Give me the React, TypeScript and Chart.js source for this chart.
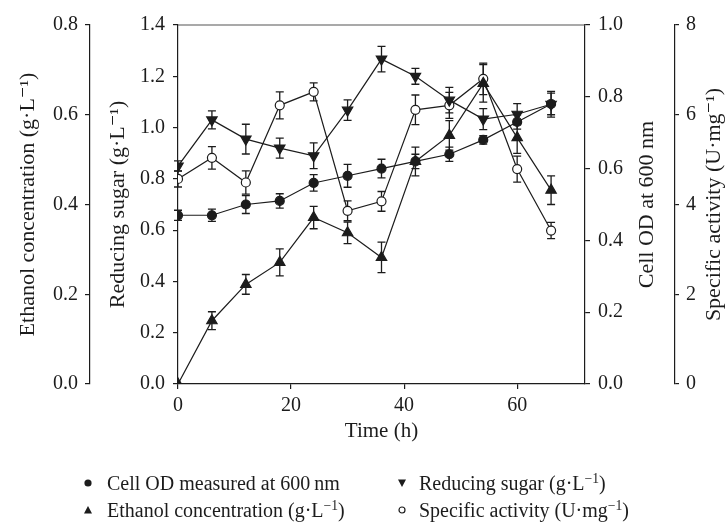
import React, { useEffect, useRef } from "react";
import { Chart, registerables } from "chart.js";

Chart.register(...registerables);

// ---- data ----
const times = [0, 6, 12, 18, 24, 30, 36, 42, 48, 54, 60, 66];
const cellOD = [0.47, 0.47, 0.5, 0.51, 0.56, 0.58, 0.6, 0.62, 0.64, 0.68, 0.73, 0.78];
const cellODErr = [0.014, 0.017, 0.025, 0.02, 0.023, 0.032, 0.026, 0.02, 0.02, 0.012, 0.02, 0.03];
const sugar = [0.85, 1.03, 0.955, 0.92, 0.89, 1.068, 1.267, 1.2, 1.107, 1.033, 1.052, 1.091];
const sugarErr = [0.02, 0.035, 0.058, 0.039, 0.05, 0.04, 0.05, 0.031, 0.05, 0.041, 0.041, 0.05];
const ethanol = [0, 0.141, 0.222, 0.271, 0.371, 0.337, 0.282, 0.496, 0.554, 0.67, 0.549, 0.432];
const ethanolErr = [0, 0.02, 0.022, 0.03, 0.025, 0.024, 0.034, 0.032, 0.033, 0.042, 0.035, 0.032];
const activity = [4.57, 5.04, 4.49, 6.21, 6.51, 3.86, 4.07, 6.11, 6.21, 6.8, 4.79, 3.42];
const activityErr = [0.18, 0.25, 0.26, 0.3, 0.2, 0.22, 0.22, 0.33, 0.29, 0.35, 0.29, 0.18];

const xTitle = "Time (h)";
const ethanolTitle = "Ethanol concentration (g\u00B7L\u207B\u00B9)";
const sugarTitle = "Reducing sugar (g\u00B7L\u207B\u00B9)";
const odTitle = "Cell OD at 600 nm";
const activityTitle = "Specific activity (U\u00B7mg\u207B\u00B9)";

const INK = "#1c1c1c";
const FONT = '"Liberation Serif", "Times New Roman", "DejaVu Serif", serif';

const toPoints = (ys: number[]) => times.map((t, i) => ({ x: t, y: ys[i] }));

const errorBarPlugin = {
  id: "errorBars",
  beforeDatasetsDraw(chart: any) {
    const ctx = chart.ctx;
    ctx.save();
    ctx.strokeStyle = INK;
    ctx.lineWidth = 1.3;
    chart.data.datasets.forEach((ds: any, i: number) => {
      const meta = chart.getDatasetMeta(i);
      const ys = chart.scales[meta.yAxisID];
      const errs: number[] = ds.errors || [];
      meta.data.forEach((pt: any, j: number) => {
        const e = errs[j];
        if (!e) return;
        const v = ds.data[j].y;
        const x = pt.x;
        const y1 = ys.getPixelForValue(v + e);
        const y2 = ys.getPixelForValue(Math.max(v - e, 0));
        const cap = 4;
        ctx.beginPath();
        ctx.moveTo(x, y1);
        ctx.lineTo(x, y2);
        ctx.moveTo(x - cap, y1);
        ctx.lineTo(x + cap, y1);
        ctx.moveTo(x - cap, y2);
        ctx.lineTo(x + cap, y2);
        ctx.stroke();
      });
    });
    ctx.restore();
  },
};

const framePlugin = {
  id: "frameAndTitles",
  afterDraw(chart: any) {
    const ctx = chart.ctx;
    const a = chart.chartArea;
    ctx.save();
    ctx.strokeStyle = "#555";
    ctx.lineWidth = 1.2;
    ctx.beginPath();
    ctx.moveTo(a.left, a.top);
    ctx.lineTo(a.right, a.top);
    ctx.stroke();
    ctx.fillStyle = INK;
    ctx.font = `22px ${FONT}`;
    ctx.textAlign = "center";
    ctx.textBaseline = "middle";
    const midY = (a.top + a.bottom) / 2;
    const od = chart.scales.yOD;
    const act = chart.scales.yAct;
    const drawV = (text: string, x: number) => {
      ctx.save();
      ctx.translate(x, midY);
      ctx.rotate(-Math.PI / 2);
      ctx.fillText(text, 0, 0);
      ctx.restore();
    };
    drawV(odTitle, od.right - 28);
    drawV(activityTitle, act.right - 12);
    ctx.restore();
  },
};

const tickFont = { family: FONT, size: 20 };
const titleFont = { family: FONT, size: 22 };

function yAxis(
  position: "left" | "right",
  min: number,
  max: number,
  step: number,
  width: number,
  weight: number,
  digits: number,
  title: string | null,
  titlePad: number,
  tickLen: number,
  tickPad: number
) {
  return {
    type: "linear",
    position,
    min,
    max,
    weight,
    ticks: {
      stepSize: step,
      font: tickFont,
      color: INK,
      padding: tickPad,
      callback: (v: any) => Number(v).toFixed(digits),
    },
    grid: { drawOnChartArea: false, drawTicks: true, tickLength: tickLen, color: INK, lineWidth: 1.2 },
    border: { display: true, color: INK, width: 1.2 },
    title: title
      ? { display: true, text: title, font: titleFont, color: INK, padding: { top: titlePad, bottom: 0 } }
      : { display: false },
    afterFit: (s: any) => {
      s.width = width;
    },
  };
}

function ChartView() {
  const ref = useRef<HTMLCanvasElement | null>(null);
  useEffect(() => {
    if (!ref.current) return;
    const common = {
      borderColor: INK,
      borderWidth: 1.2,
      tension: 0,
      fill: false,
      pointBorderColor: INK,
      pointBorderWidth: 1.2,
    };
    const chart = new Chart(ref.current, {
      type: "line",
      data: {
        datasets: [
          {
            ...common,
            label: "Cell OD measured at 600 nm",
            data: toPoints(cellOD),
            errors: cellODErr,
            yAxisID: "yOD",
            pointStyle: "circle",
            pointRadius: 4.5,
            pointBackgroundColor: INK,
          } as any,
          {
            ...common,
            label: "Reducing sugar",
            data: toPoints(sugar),
            errors: sugarErr,
            yAxisID: "ySugar",
            pointStyle: "triangle",
            pointRotation: 180,
            pointRadius: 6,
            pointBackgroundColor: INK,
          } as any,
          {
            ...common,
            label: "Ethanol concentration",
            data: toPoints(ethanol),
            errors: ethanolErr,
            yAxisID: "yEth",
            pointStyle: "triangle",
            pointRadius: 6,
            pointBackgroundColor: INK,
          } as any,
          {
            ...common,
            label: "Specific activity",
            data: toPoints(activity),
            errors: activityErr,
            yAxisID: "yAct",
            pointStyle: "circle",
            pointRadius: 4.5,
            pointBackgroundColor: "#ffffff",
          } as any,
        ],
      },
      options: {
        responsive: false,
        animation: false,
        devicePixelRatio: 1,
        layout: { padding: { left: 10, right: 0, top: 25, bottom: 79 } },
        plugins: { legend: { display: false }, tooltip: { enabled: false } },
        scales: {
          x: {
            type: "linear",
            position: "bottom",
            min: 0,
            max: 72,
            ticks: { stepSize: 20, includeBounds: false, font: tickFont, color: INK, padding: 5 },
            grid: { drawOnChartArea: false, drawTicks: true, tickLength: 5, color: INK, lineWidth: 1.2 },
            border: { display: true, color: INK, width: 1.2 },
            title: { display: true, text: xTitle, font: { family: FONT, size: 21 }, color: INK, padding: { top: 0, bottom: 0 } },
            afterFit: (s: any) => {
              s.height = 60;
            },
          } as any,
          yEth: yAxis("left", 0, 0.8, 0.2, 80, 1, 1, ethanolTitle, 5, 5, 7) as any,
          ySugar: yAxis("left", 0, 1.4, 0.2, 88, 0, 1, sugarTitle, 15, 5, 8) as any,
          yOD: yAxis("right", 0, 1.0, 0.2, 90, 0, 1, null, 0, 5, 8) as any,
          yAct: yAxis("right", 0, 8, 2, 51, 1, 0, null, 0, 4, 7) as any,
        },
      } as any,
      plugins: [errorBarPlugin, framePlugin],
    });
    return () => chart.destroy();
  }, []);
  return <canvas ref={ref} width={726} height={523} style={{ width: 726, height: 523, display: "block" }} />;
}

function Marker({ kind }: { kind: string }) {
  if (kind === "dot") return <svg width="10" height="10"><circle cx="5" cy="5" r="3.6" fill={INK} /></svg>;
  if (kind === "open")
    return <svg width="10" height="10"><circle cx="5" cy="5" r="3" fill="#fff" stroke={INK} strokeWidth="1.2" /></svg>;
  if (kind === "up") return <svg width="10" height="10"><polygon points="5,1 9,8.5 1,8.5" fill={INK} /></svg>;
  return <svg width="10" height="10"><polygon points="1,1.5 9,1.5 5,9" fill={INK} /></svg>;
}

const Sup = ({ children }: { children: React.ReactNode }) => (
  <span style={{ fontSize: "0.68em", verticalAlign: "0.55em", lineHeight: 0 }}>{children}</span>
);

const legendItems = [
  { kind: "dot", mx: 88, tx: 107, cy: 483, text: <>Cell OD measured at 600&#8201;nm</> },
  { kind: "up", mx: 88, tx: 107, cy: 510, text: <>Ethanol concentration (g·L<Sup>−1</Sup>)</> },
  { kind: "down", mx: 402, tx: 419, cy: 483, text: <>Reducing sugar (g·L<Sup>−1</Sup>)</> },
  { kind: "open", mx: 402, tx: 419, cy: 510, text: <>Specific activity (U·mg<Sup>−1</Sup>)</> },
];

export default function App() {
  return (
    <div style={{ position: "fixed", left: 0, top: 0, width: 726, height: 523, background: "#fff", overflow: "hidden" }}>
      <ChartView />
      {legendItems.map((it, i) => (
        <React.Fragment key={i}>
          <div style={{ position: "absolute", left: it.mx - 5, top: it.cy - 5, width: 10, height: 10, lineHeight: 0 }}>
            <Marker kind={it.kind} />
          </div>
          <div
            style={{
              position: "absolute",
              left: it.tx,
              top: it.cy - 12,
              height: 24,
              lineHeight: "24px",
              fontFamily: FONT,
              fontSize: 20,
              color: INK,
              whiteSpace: "nowrap",
            }}
          >
            {it.text}
          </div>
        </React.Fragment>
      ))}
    </div>
  );
}
